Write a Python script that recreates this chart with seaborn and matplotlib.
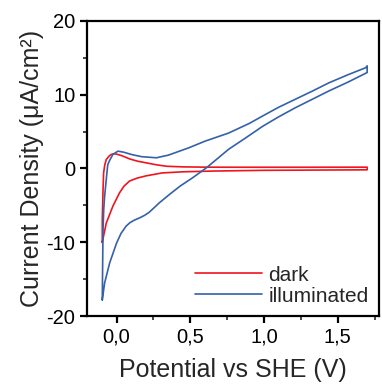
import matplotlib
matplotlib.use('Agg')
import matplotlib.pyplot as plt
import matplotlib.ticker as mticker
import pandas as pd
import seaborn as sns

# dark scan (forward then reverse)
dark_v = [-0.097, -0.097, -0.092, -0.088, -0.080, -0.070, -0.050, -0.036, -0.020, 0.000,
          0.040, 0.088, 0.140, 0.200, 0.270, 0.340, 0.450, 0.600, 0.800, 1.000, 1.300, 1.700,
          1.700, 1.300, 1.000, 0.650, 0.450, 0.310, 0.200, 0.140, 0.088, 0.050, 0.020,
          -0.025, -0.070, -0.097]
dark_j = [-10.0, -6.9, -3.0, -0.6, 0.5, 1.2, 1.7, 1.9, 2.0, 1.95,
          1.7, 1.3, 1.0, 0.77, 0.5, 0.3, 0.22, 0.18, 0.17, 0.17, 0.17, 0.18,
          -0.18, -0.22, -0.25, -0.35, -0.45, -0.6, -1.0, -1.3, -1.7, -2.4, -3.3,
          -5.1, -7.4, -10.0]

# illuminated scan (forward then reverse)
illum_v = [-0.097, -0.095, -0.092, -0.087, -0.081, -0.070, -0.060, -0.047, -0.025, 0.009,
           0.050, 0.100, 0.170, 0.270, 0.350, 0.420, 0.490, 0.600, 0.760, 0.900, 0.990,
           1.100, 1.210, 1.330, 1.440, 1.570, 1.690, 1.700,
           1.700, 1.570, 1.440, 1.330, 1.210, 1.100, 0.990, 0.880, 0.760, 0.610, 0.520,
           0.430, 0.360, 0.290, 0.250, 0.220, 0.190, 0.155, 0.120, 0.090, 0.065, 0.030,
           0.000, -0.047, -0.081, -0.097]
illum_j = [-17.8, -14.0, -8.3, -5.5, -3.75, -1.5, 0.5, 1.1, 1.9, 2.35,
           2.2, 1.9, 1.6, 1.45, 1.8, 2.3, 2.8, 3.7, 4.8, 6.1, 7.1,
           8.3, 9.35, 10.5, 11.6, 12.7, 13.65, 13.9,
           13.0, 11.7, 10.5, 9.4, 8.2, 7.0, 5.7, 4.2, 2.6, 0.1, -1.2,
           -2.4, -3.5, -4.65, -5.4, -5.95, -6.35, -6.7, -7.0, -7.35, -7.8, -8.8,
           -10.1, -12.8, -15.5, -17.8]

df = pd.concat([
    pd.DataFrame({'V': dark_v, 'J': dark_j, 'scan': 'dark'}),
    pd.DataFrame({'V': illum_v, 'J': illum_j, 'scan': 'illuminated'}),
], ignore_index=True)

sns.set_style('ticks')
plt.rcParams['font.family'] = ['Liberation Sans', 'DejaVu Sans']

fig = plt.figure(figsize=(3.82, 3.86), dpi=100)
ax = fig.add_axes([0.228, 0.181, 0.764, 0.765])
sns.lineplot(data=df, x='V', y='J', hue='scan', sort=False, estimator=None,
             palette={'dark': '#f0141e', 'illuminated': '#3461a8'}, linewidth=1.2, ax=ax)

ax.set_xlim(-0.2, 1.78)
ax.set_ylim(-20, 20)
ax.xaxis.set_major_locator(mticker.MultipleLocator(0.5))
ax.xaxis.set_minor_locator(mticker.MultipleLocator(0.25))
ax.yaxis.set_major_locator(mticker.MultipleLocator(10))
ax.yaxis.set_minor_locator(mticker.MultipleLocator(5))
ax.xaxis.set_major_formatter(mticker.FuncFormatter(lambda v, p: f'{v:.1f}'.replace('.', ',')))
ax.yaxis.set_major_formatter(mticker.FuncFormatter(lambda v, p: f'{v:.0f}'))

for s in ax.spines.values():
    s.set_visible(True)
    s.set_linewidth(1.6)
    s.set_color('black')
ax.tick_params(which='major', direction='out', length=5, width=1.6, labelsize=14.5, colors='black')
ax.tick_params(which='minor', direction='out', length=3, width=1.2)

ax.set_xlabel('Potential vs SHE (V)', fontsize=18, labelpad=8)
ax.set_ylabel('Current Density (μA/cm²)', fontsize=18, labelpad=2)

ax.legend(loc='lower right', frameon=False, fontsize=15, handlelength=3.2,
          handletextpad=0.3, labelspacing=0.1, borderaxespad=0.1, title=None)

fig.savefig('out.png', dpi=100)
